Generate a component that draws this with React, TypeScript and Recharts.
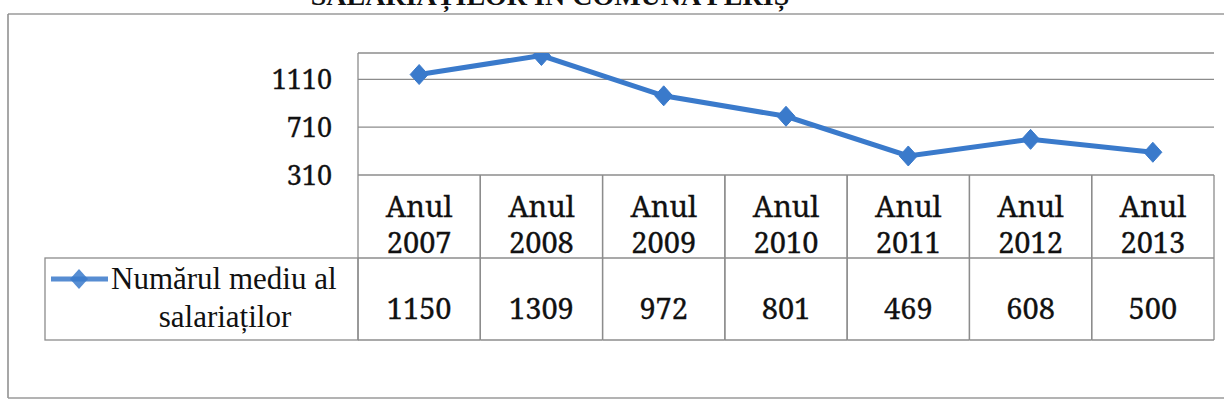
import React from 'react';
import { LineChart, Line, XAxis, YAxis, CartesianGrid, Customized } from 'recharts';

const years = ['2007', '2008', '2009', '2010', '2011', '2012', '2013'];
const yearPrefix = 'Anul';
const values = [1150, 1309, 972, 801, 469, 608, 500];
const yTicks = [310, 710, 1110];
const seriesName = ['Numărul mediu al', 'salariaților'];
const titleText = 'SALARIAȚILOR ÎN COMUNA PERIȘ';

const data = years.map((y, i) => ({ name: y, value: values[i] }));

const W = 1224;
const H = 410;
const PLOT_LEFT = 358;
const PLOT_RIGHT = 1214;
const PLOT_TOP = 53;
const PLOT_BOTTOM = 175;
const Y_AXIS_W = 60;
const X_AXIS_H = 165;
const CELL_W = (PLOT_RIGHT - PLOT_LEFT) / years.length;
const ROW1 = 83;
const ROW2 = 165;

const LINE_COLOR = '#3a7acb';
const GRID = '#8c8c8c';
const NUM_FONT = "'Noto Serif', 'DejaVu Serif', serif";
const TXT_FONT = "'Liberation Serif', 'Times New Roman', serif";

const TableTick = (props: any) => {
  const { x, payload } = props;
  const top = PLOT_BOTTOM;
  const l = x - CELL_W / 2;
  const r = x + CELL_W / 2;
  const idx = years.indexOf(String(payload.value));
  const txt = { textAnchor: 'middle' as const, fontSize: 29, fill: '#111', stroke: '#111', strokeWidth: 0.3, style: { fontFamily: NUM_FONT } };
  return (
    <g>
      <line x1={l} y1={top} x2={l} y2={top + ROW2} stroke={GRID} strokeWidth={1.3} />
      <line x1={r} y1={top} x2={r} y2={top + ROW2} stroke={GRID} strokeWidth={1.3} />
      <line x1={l} y1={top + ROW1} x2={r} y2={top + ROW1} stroke={GRID} strokeWidth={1.3} />
      <line x1={l} y1={top + ROW2} x2={r} y2={top + ROW2} stroke={GRID} strokeWidth={1.3} />
      <text x={x} y={top + 42} {...txt}>{yearPrefix}</text>
      <text x={x} y={top + 78} {...txt}>{payload.value}</text>
      <text x={x} y={top + 144} {...txt}>{idx >= 0 ? values[idx] : ''}</text>
    </g>
  );
};

const Diamond = (props: any) => {
  const { cx, cy } = props;
  if (cx == null || cy == null) return null;
  return (
    <polygon
      points={`${cx},${cy - 10} ${cx + 9},${cy} ${cx},${cy + 10} ${cx - 9},${cy}`}
      fill={LINE_COLOR}
      stroke={LINE_COLOR}
    />
  );
};

const Decor = () => {
  const top = PLOT_BOTTOM + ROW1;
  const bottom = PLOT_BOTTOM + ROW2;
  return (
    <g>
      <line x1={8} y1={14} x2={W} y2={14} stroke="#9a9a9a" strokeWidth={1.5} />
      <line x1={8} y1={14} x2={8} y2={398} stroke="#8a8a8a" strokeWidth={1.5} />
      <line x1={8} y1={398} x2={W} y2={398} stroke="#9a9a9a" strokeWidth={1.5} />
      <text x={550} y={5} textAnchor="middle" style={{ fontFamily: TXT_FONT }} fontWeight="bold" fontSize={28} fill="#111">{titleText}</text>
      <rect x={45} y={top} width={PLOT_LEFT - 45} height={bottom - top} fill="none" stroke={GRID} strokeWidth={1.3} />
      <line x1={51} y1={top + 21} x2={108} y2={top + 21} stroke={LINE_COLOR} strokeWidth={5} opacity={0.85} />
      <polygon points={`79,${top + 11} 88,${top + 21} 79,${top + 31} 70,${top + 21}`} fill={LINE_COLOR} opacity={0.85} />
      <text x={111} y={top + 31} style={{ fontFamily: TXT_FONT }} fontSize={31} fill="#111">{seriesName[0]}</text>
      <text x={225} y={top + 69} textAnchor="middle" style={{ fontFamily: TXT_FONT }} fontSize={31} fill="#111">{seriesName[1]}</text>
    </g>
  );
};

export default function App() {
  return (
    <div style={{ position: 'absolute', left: 0, top: 0, width: W, height: H, background: '#fff' }}>
      <LineChart
        width={W}
        height={H}
        data={data}
        margin={{ top: PLOT_TOP, right: W - PLOT_RIGHT, left: PLOT_LEFT - Y_AXIS_W, bottom: H - PLOT_BOTTOM - X_AXIS_H }}
      >
        <CartesianGrid vertical={false} stroke={GRID} strokeWidth={1.3} />
        <XAxis
          dataKey="name"
          scale="band"
          height={X_AXIS_H}
          axisLine={false}
          tickLine={false}
          tickSize={0}
          interval={0}
          tick={<TableTick />}
        />
        <YAxis
          width={Y_AXIS_W}
          domain={[310, 1330]}
          ticks={yTicks}
          allowDataOverflow
          axisLine={{ stroke: GRID, strokeWidth: 1.3 }}
          tickLine={false}
          tickSize={0}
          tickMargin={26}
          tick={{ fill: '#111', stroke: '#111', strokeWidth: 0.3, fontSize: 27, fontFamily: NUM_FONT }}
        />
        <Line
          type="linear"
          dataKey="value"
          stroke={LINE_COLOR}
          strokeWidth={5}
          dot={<Diamond />}
          activeDot={false}
          isAnimationActive={false}
        />
        <Customized component={<Decor />} />
      </LineChart>
    </div>
  );
}
